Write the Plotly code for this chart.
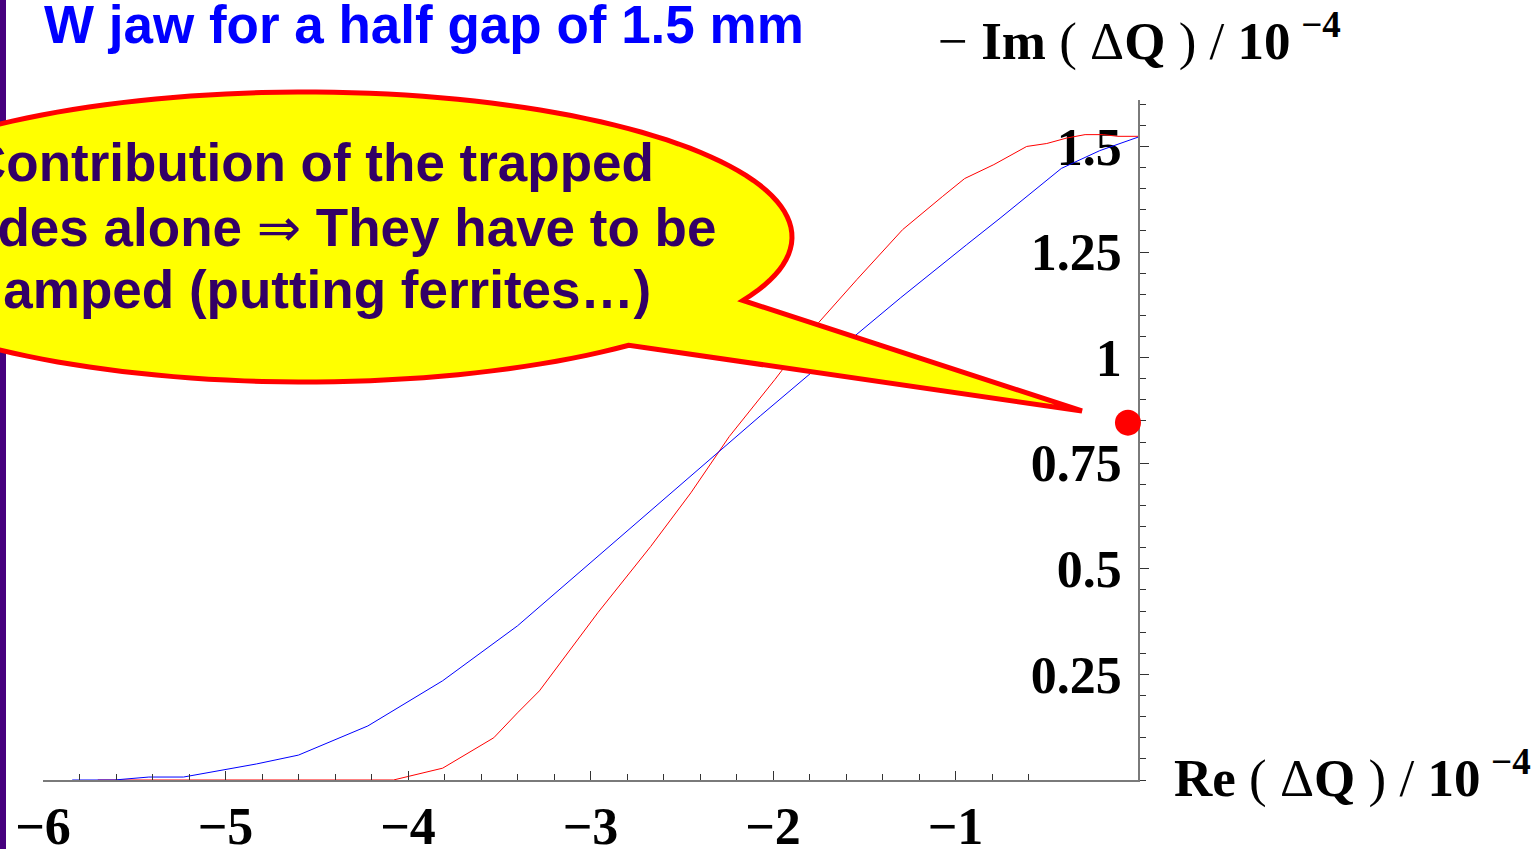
import numpy as np
import plotly.graph_objects as go

# ---------------- data ----------------
blue_re = [-5.84, -5.61, -5.42, -5.23, -4.83, -4.60, -4.22, -3.81, -3.40,
           -2.07, -1.55, -1.30, -0.94, -0.756, -0.42, -0.21, 0.0]
blue_im = [0.0, 0.0, 0.007, 0.007, 0.038, 0.059, 0.128, 0.235, 0.365,
           0.862, 1.052, 1.142, 1.267, 1.330, 1.448, 1.490, 1.522]

red_re = [-5.70, -4.08, -3.81, -3.53, -3.40, -3.28, -2.96, -2.67, -2.45, -2.24,
          -1.99, -1.75, -1.54, -1.29, -1.07, -0.95, -0.79, -0.61, -0.50, -0.39,
          -0.29, -0.19, -0.11, 0.0]
red_im = [0.0, 0.0, 0.028, 0.100, 0.159, 0.211, 0.396, 0.553, 0.680, 0.813,
          0.948, 1.083, 1.185, 1.303, 1.382, 1.424, 1.457, 1.500, 1.507, 1.520,
          1.528, 1.528, 1.524, 1.524]

dot_re = [-0.055]
dot_im = [0.846]

x_tickvals = [-6, -5, -4, -3, -2, -1]
y_tickvals = [0.25, 0.5, 0.75, 1.0, 1.25, 1.5]
y_ticktext = ["0.25", "0.5", "0.75", "1", "1.25", "1.5"]

title_text = "W jaw for a half gap of 1.5 mm"
callout_lines = ["Contribution of the trapped",
                 "modes alone <span style=\"font-family:'DejaVu Sans';font-weight:normal\">\u21d2</span> They have to be",
                 "damped (putting ferrites\u2026)"]

# ---------------- layout geometry ----------------
W, H = 1537, 849
L, R, T, B = 43, 399, 100, 69
PW, PH = W - L - R, H - T - B


def px(xp):
    return (xp - L) / PW


def py(yp):
    return (H - B - yp) / PH


fig = go.Figure()
fig.add_trace(go.Scatter(x=red_re, y=red_im, mode="lines",
                         line=dict(color="#ff0000", width=1), showlegend=False))
fig.add_trace(go.Scatter(x=blue_re, y=blue_im, mode="lines",
                         line=dict(color="#0000ff", width=1), showlegend=False))
fig.add_trace(go.Scatter(x=dot_re, y=dot_im, mode="markers", cliponaxis=False,
                         marker=dict(color="#ff0000", size=26), showlegend=False))

tickfont = dict(family="Liberation Serif", size=52, color="black", weight="bold")

fig.update_layout(
    width=W, height=H,
    margin=dict(l=L, r=R, t=T, b=B, autoexpand=False),
    paper_bgcolor="white", plot_bgcolor="white",
    xaxis=dict(range=[-6, 0], showgrid=False, zeroline=False, automargin=False,
               showline=True, linecolor="#7a7a7a", linewidth=1.5,
               ticks="inside", ticklen=9, tickcolor="#333", tickwidth=1,
               tickvals=x_tickvals, tickfont=tickfont, ticklabelstandoff=0,
               minor=dict(dtick=0.2, tick0=0, ticks="inside", ticklen=6,
                          tickcolor="#333", tickwidth=1)),
    yaxis=dict(range=[0, 1.61], side="right", showgrid=False, zeroline=False,
               automargin=False,
               showline=True, linecolor="#7a7a7a", linewidth=1.5,
               ticks="outside", ticklen=9, tickcolor="#333", tickwidth=1,
               tickvals=y_tickvals, ticktext=y_ticktext,
               ticklabelposition="inside", tickfont=tickfont,
               ticklabelstandoff=24, layer="below traces",
               minor=dict(dtick=0.05, tick0=0, ticks="outside", ticklen=6,
                          tickcolor="#333", tickwidth=1)),
)

shapes = []
# purple bar at the left edge
shapes.append(dict(type="rect", xref="paper", yref="paper",
                   x0=px(0), x1=px(6), y0=py(H), y1=py(0),
                   fillcolor="#46007e", line=dict(width=0), layer="above"))

# speech bubble (ellipse with a tail)
cx, cy, rx, ry = 305, 237, 487, 145
tip = (1082, 411)
a_start = np.arctan2((345 - cy) / ry, (628 - cx) / rx)   # lower tail base
a_end = np.arctan2((300 - cy) / ry, (740 - cx) / rx)     # upper tail base
angs = np.linspace(a_start, a_end + 2 * np.pi, 160)
pts = [(cx + rx * np.cos(a), cy + ry * np.sin(a)) for a in angs]
pts.append(tip)
path = "M " + " L ".join(f"{px(x):.5f},{py(y):.5f}" for x, y in pts) + " Z"
shapes.append(dict(type="path", xref="paper", yref="paper", path=path,
                   fillcolor="#ffff00", line=dict(color="#ff0000", width=5),
                   layer="above"))
fig.update_layout(shapes=shapes)

ann = []
ann.append(dict(xref="paper", yref="paper", x=px(42), y=py(-7),
                xanchor="left", yanchor="top", showarrow=False,
                text=title_text,
                font=dict(family="Liberation Sans", size=53, color="#0000ff",
                          weight="bold")))
ann.append(dict(xref="paper", yref="paper", x=px(936), y=py(2),
                xanchor="left", yanchor="top", showarrow=False,
                text="\u2212 <b>Im</b> ( \u0394<b>Q</b> ) / <b>10</b>\u2009<sup><b>\u22124</b></sup>",
                font=dict(family="Liberation Serif", size=53, color="black")))
ann.append(dict(xref="paper", yref="paper", x=px(1172), y=py(739),
                xanchor="left", yanchor="top", showarrow=False,
                text="<b>Re</b> ( \u0394<b>Q</b> ) / <b>10</b>\u2009<sup><b>\u22124</b></sup>",
                font=dict(family="Liberation Serif", size=53, color="black")))
line_right = [656, 718, 653]
line_top = [131, 195, 258]
for txt, xr, yt in zip(callout_lines, line_right, line_top):
    ann.append(dict(xref="paper", yref="paper", x=px(xr), y=py(yt),
                    xanchor="right", yanchor="top", showarrow=False,
                    text=txt,
                    font=dict(family="Liberation Sans", size=53, color="#330066",
                              weight="bold")))
fig.update_layout(annotations=ann)

fig.write_html("out.html", config={"displayModeBar": False},
               post_script="document.body.style.margin='0';")
